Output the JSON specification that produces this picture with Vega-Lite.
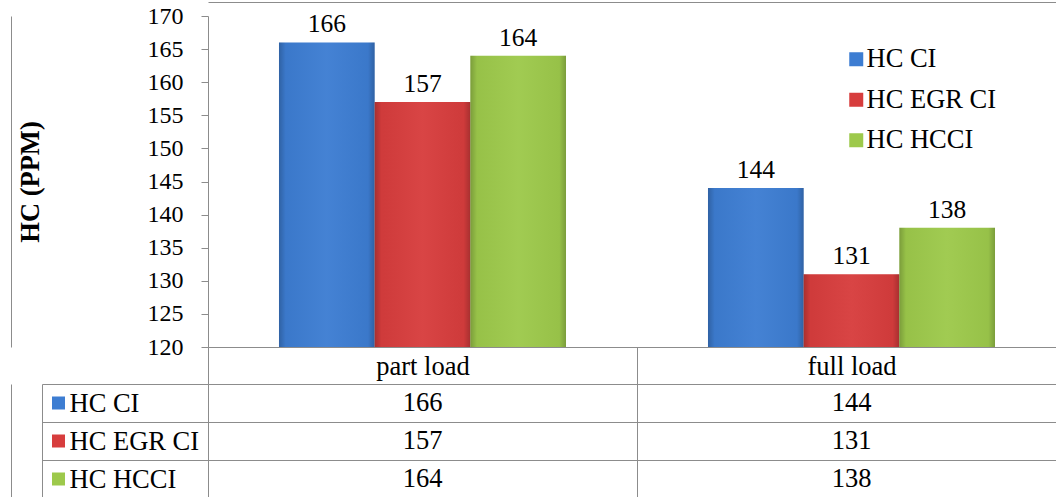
{
  "$schema": "https://vega.github.io/schema/vega-lite/v6.json",
  "background": "white",
  "padding": {"left": 11, "top": 2, "right": 0, "bottom": 0},
  "config": {
    "font": "Liberation Serif, Times New Roman, serif",
    "view": {"stroke": null},
    "text": {"font": "Liberation Serif, Times New Roman, serif"},
    "axis": {"labelColor": "black", "titleColor": "black", "domainColor": "#8c8c8c", "tickColor": "#8c8c8c", "gridColor": "#8c8c8c", "labelFont": "Liberation Serif, Times New Roman, serif", "titleFont": "Liberation Serif, Times New Roman, serif"},
    "legend": {"labelFont": "Liberation Serif, Times New Roman, serif", "labelColor": "black"}
  },
  "datasets": {
    "hc": [
      {"load": "part load", "series": "HC CI", "value": 166},
      {"load": "part load", "series": "HC EGR CI", "value": 157},
      {"load": "part load", "series": "HC HCCI", "value": 164},
      {"load": "full load", "series": "HC CI", "value": 144},
      {"load": "full load", "series": "HC EGR CI", "value": 131},
      {"load": "full load", "series": "HC HCCI", "value": 138}
    ]
  },
  "spacing": 37,
  "bounds": "flush",
  "resolve": {"scale": {"color": "independent"}, "legend": {"color": "independent"}},
  "vconcat": [
    {
      "width": 858,
      "height": 331,
      "data": {"name": "hc"},
      "resolve": {"scale": {"x": "independent", "y": "independent"}, "axis": {"x": "independent", "y": "independent"}},
      "layer": [
        {
          "encoding": {
            "x": {
              "field": "load", "type": "nominal", "sort": ["part load", "full load"],
              "scale": {"paddingInner": 0, "paddingOuter": 0},
              "axis": {"title": null, "labelAngle": 0, "tickBand": "extent", "tickSize": 37, "labelPadding": -18, "labelBaseline": "middle", "labelFontSize": 26.5}
            },
            "xOffset": {"field": "series", "type": "nominal", "sort": ["HC CI", "HC EGR CI", "HC HCCI"], "scale": {"paddingInner": 0, "paddingOuter": 0.742}},
            "y": {
              "field": "value", "type": "quantitative",
              "scale": {"domain": [120, 170], "zero": false, "nice": false},
              "axis": {"title": "HC (PPM)", "values": [120, 125, 130, 135, 140, 145, 150, 155, 160, 165, 170], "grid": false, "tickSize": 7, "labelPadding": 18, "labelFontSize": 24, "titleFontSize": 26.5, "titleFontWeight": "bold", "titlePadding": 103}
            }
          },
          "layer": [
            {
              "mark": {"type": "bar", "clip": true},
              "encoding": {
                "color": {
                  "field": "series", "type": "nominal",
                  "scale": {"domain": ["HC CI", "HC EGR CI", "HC HCCI"], "range": ["#3d7dd2", "#d73d3d", "#9dc94b"]},
                  "legend": {"title": null, "orient": "none", "legendX": 635, "legendY": 30, "padding": 0, "symbolType": "square", "symbolSize": 196, "symbolStrokeWidth": 0, "labelFontSize": 26.5, "labelOffset": -3, "rowPadding": 13.5}
                }
              }
            },
            {
              "mark": {
                "type": "bar", "clip": true,
                "fill": {
                  "gradient": "linear", "x1": 0, "y1": 0, "x2": 1, "y2": 0,
                  "stops": [
                    {"offset": 0, "color": "rgba(0,0,0,0.22)"},
                    {"offset": 0.07, "color": "rgba(0,0,0,0.04)"},
                    {"offset": 0.5, "color": "rgba(255,255,255,0.04)"},
                    {"offset": 0.93, "color": "rgba(0,0,0,0.04)"},
                    {"offset": 1, "color": "rgba(0,0,0,0.22)"}
                  ]
                }
              },
              "encoding": {}
            },
            {
              "mark": {"type": "text", "baseline": "alphabetic", "dy": -10, "fontSize": 25.5, "color": "black"},
              "encoding": {"text": {"field": "value", "type": "quantitative"}}
            }
          ]
        },
        {
          "mark": {"type": "point", "opacity": 0},
          "encoding": {
            "x": {"field": "load", "type": "nominal", "axis": {"orient": "top", "offset": 14, "title": null, "labels": false, "ticks": false, "grid": false, "domain": true}},
            "y": {"field": "value", "type": "quantitative", "axis": {"orient": "left", "offset": 197, "title": null, "labels": false, "ticks": false, "grid": false, "domain": true}}
          }
        }
      ]
    },
    {
      "width": 858,
      "height": 114,
      "data": {"name": "hc"},
      "resolve": {"scale": {"y": "independent"}, "axis": {"y": "independent"}},
      "layer": [
        {
          "mark": {"type": "text", "fontSize": 26.5, "baseline": "middle", "color": "black"},
          "encoding": {
            "x": {
              "field": "load", "type": "nominal", "sort": ["part load", "full load"],
              "axis": {"orient": "top", "title": null, "labels": false, "ticks": false, "domain": false, "grid": true, "tickBand": "extent"}
            },
            "y": {
              "field": "series", "type": "nominal", "sort": ["HC CI", "HC EGR CI", "HC HCCI"],
              "scale": {"paddingInner": 0, "paddingOuter": 0},
              "axis": {"title": null, "tickBand": "extent", "tickSize": 166, "grid": true, "labelAlign": "left", "labelPadding": -27, "labelFontSize": 26.5}
            },
            "text": {"field": "value", "type": "quantitative"}
          }
        },
        {
          "mark": {"type": "square", "opacity": 0},
          "encoding": {
            "x": {"field": "load", "type": "nominal", "sort": ["part load", "full load"]},
            "y": {
              "field": "series", "type": "nominal", "sort": ["HC CI", "HC EGR CI", "HC HCCI"],
              "scale": {"paddingInner": 0, "paddingOuter": 0},
              "axis": {"orient": "left", "offset": 166, "title": null, "ticks": false, "labels": false, "grid": false, "domain": true}
            },
            "color": {
              "field": "series", "type": "nominal",
              "scale": {"domain": ["HC CI", "HC EGR CI", "HC HCCI"], "range": ["#3d7dd2", "#d73d3d", "#9dc94b"]},
              "legend": {"title": null, "orient": "none", "legendX": -156, "legendY": 12.5, "padding": 0, "symbolType": "square", "symbolSize": 169, "symbolStrokeWidth": 0, "symbolOpacity": 1, "labelExpr": "''", "labelFontSize": 10, "rowPadding": 25}
            }
          }
        },
        {
          "mark": {"type": "point", "opacity": 0},
          "encoding": {
            "x": {"field": "load", "type": "nominal", "sort": ["part load", "full load"]},
            "y": {
              "field": "series", "type": "nominal",
              "axis": {"orient": "left", "offset": 197, "title": null, "ticks": false, "labels": false, "grid": false, "domain": true}
            }
          }
        }
      ]
    }
  ]
}
